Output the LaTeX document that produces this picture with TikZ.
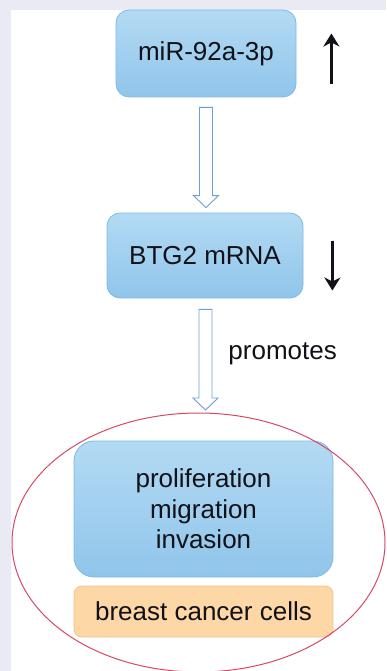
\documentclass[tikz,border=0pt]{standalone}
\usepackage{fontspec}
\setmainfont{Liberation Sans}
\usetikzlibrary{calc,arrows.meta}

\definecolor{boxtop}{HTML}{B3DAF3}
\definecolor{boxbot}{HTML}{90C5EB}
\definecolor{boxline}{HTML}{7DBBE5}
\definecolor{cellfill}{HTML}{FDD8A6}
\definecolor{cellline}{HTML}{F3C285}
\definecolor{arrline}{HTML}{6B9FD9}
\definecolor{ringred}{HTML}{D64B63}
\definecolor{framebg}{HTML}{EAEAF4}
\definecolor{ink}{HTML}{111118}

\tikzset{
  box/.style={draw=boxline, top color=boxtop, bottom color=boxbot, line width=0.8pt,
    align=center, text=ink, font=\fontsize{26}{30.5}\selectfont},
  cellbox/.style={draw=cellline, fill=cellfill, line width=0.8pt, rounded corners=8pt,
    text=ink, font=\fontsize{26}{30.5}\selectfont},
  hollow/.style={draw=arrline, fill=white, line width=0.9pt, line join=miter},
  updown/.style={line width=2.8pt, draw=ink, -{Stealth[length=13pt,width=16pt,inset=4pt]}}
}

\begin{document}
\begin{tikzpicture}[x=1pt, y=-1pt]
\useasboundingbox (0,0) rectangle (386,671);
\clip (0,0) rectangle (386,671);
% background
\fill[framebg] (0,0) rectangle (386,671);
\fill[white] (11,10) rectangle (386,671);

% boxes
\node[box, rounded corners=13pt, minimum width=180pt, minimum height=87pt] (mir) at (206,53.5) {miR-92a-3p};
\node[box, rounded corners=13pt, minimum width=196pt, minimum height=85pt] (btg) at (205,255.5) {BTG2 mRNA};
\node[box, rounded corners=20pt, minimum width=259pt, minimum height=136pt] (pheno) at (203.5,509) {proliferation\\migration\\invasion};
\node[cellbox, minimum width=259pt, minimum height=51pt] (cells) at (203.5,611.5) {breast cancer cells};

% cells ring
\draw[ringred, line width=1pt] (198.5,542.5) ellipse (186.5 and 129.5);

% up / down
\draw[updown] ($(mir.east)+(35,31)$) -- ($(mir.east)+(35,-20)$);
\draw[updown] ($(btg.east)+(29,-15)$) -- ($(btg.east)+(29,35)$);

% hollow arrows
\coordinate (tip2) at (205.5,410);
\draw[hollow] let \p1=(mir.south), \p2=(btg.north) in
  (\x1-6.5pt,\y1-10pt) -- (\x1-6.5pt,\y2+17pt) -- (\x1-12.5pt,\y2+17pt) -- (\x1,\y2+5pt)
  -- (\x1+12.5pt,\y2+17pt) -- (\x1+6.5pt,\y2+17pt) -- (\x1+6.5pt,\y1-10pt) -- cycle;
\draw[hollow] let \p1=(btg.south), \p2=(tip2) in
  (\x2-6.5pt,\y1-11pt) -- (\x2-6.5pt,\y2+12pt) -- (\x2-12.5pt,\y2+12pt) -- (\x2,\y2)
  -- (\x2+12.5pt,\y2+12pt) -- (\x2+6.5pt,\y2+12pt) -- (\x2+6.5pt,\y1-11pt) -- cycle;
\node[anchor=west, inner sep=0pt, text=ink, font=\fontsize{26}{30.5}\selectfont] (prom)
  at ($(btg.south)!0.5!(tip2)+(23,0)$) {promotes};
\end{tikzpicture}
\end{document}
